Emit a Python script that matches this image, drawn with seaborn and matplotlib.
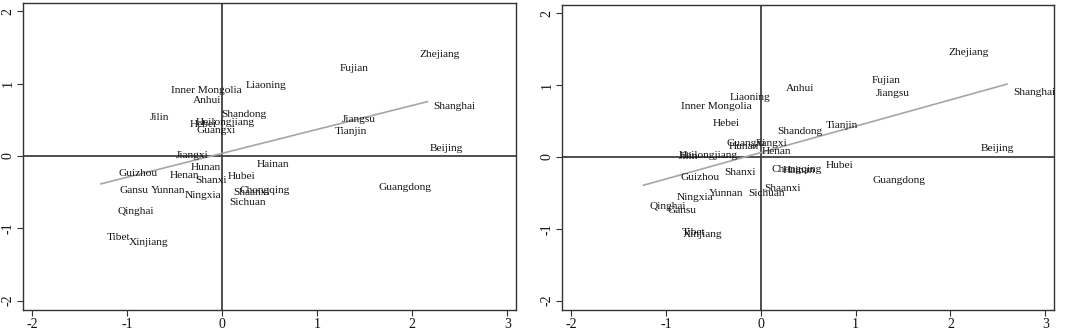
import numpy as np
import pandas as pd
import seaborn as sns
import matplotlib.pyplot as plt

# Left panel: province scores
left_names = ["Zhejiang", "Fujian", "Liaoning", "Inner Mongolia", "Anhui", "Shanghai",
              "Shandong", "Jilin", "Heilongjiang", "Hebei", "Guangxi", "Jiangsu", "Tianjin",
              "Beijing", "Jiangxi", "Hunan", "Hainan", "Guizhou", "Henan", "Shanxi", "Hubei",
              "Guangdong", "Gansu", "Yunnan", "Ningxia", "Shaanxi", "Chongqing", "Sichuan",
              "Qinghai", "Tibet", "Xinjiang"]
left_x = [2.01, 1.17, 0.18, -0.60, -0.37, 2.16, -0.07, -0.83, -0.34, -0.41, -0.33, 1.19, 1.12,
          2.12, -0.55, -0.40, 0.30, -1.16, -0.62, -0.35, -0.01, 1.58, -1.14, -0.81, -0.46,
          0.05, 0.12, 0.01, -1.17, -1.28, -1.05]
left_y = [1.40, 1.21, 0.97, 0.91, 0.77, 0.68, 0.58, 0.53, 0.46, 0.43, 0.35, 0.51, 0.34,
          0.11, 0.00, -0.16, -0.12, -0.24, -0.27, -0.34, -0.28, -0.43, -0.48, -0.48, -0.55,
          -0.50, -0.48, -0.65, -0.77, -1.13, -1.19]

# Right panel
right_names = ["Zhejiang", "Fujian", "Jiangsu", "Anhui", "Liaoning", "Inner Mongolia", "Shanghai",
               "Hebei", "Shandong", "Tianjin", "Guangxi", "Jiangxi", "Hunan", "Henan", "Beijing",
               "Jilin", "Heilongjiang", "Chongqing", "Hainan", "Hubei", "Guizhou", "Shanxi",
               "Guangdong", "Shaanxi", "Sichuan", "Yunnan", "Ningxia", "Qinghai", "Gansu",
               "Tibet", "Xinjiang"]
right_x = [1.92, 1.105, 1.15, 0.20, -0.39, -0.90, 2.60, -0.57, 0.11, 0.62, -0.42, -0.13, -0.40,
           -0.05, 2.26, -0.93, -0.93, 0.05, 0.165, 0.62, -0.91, -0.45, 1.11, -0.03, -0.20,
           -0.61, -0.95, -1.24, -1.05, -0.90, -0.89]
right_y = [1.46, 1.06, 0.88, 0.95, 0.83, 0.70, 0.90, 0.47, 0.36, 0.44, 0.19, 0.19, 0.14, 0.08,
           0.12, 0.01, 0.02, -0.18, -0.19, -0.125, -0.28, -0.22, -0.33, -0.44, -0.51, -0.51,
           -0.57, -0.69, -0.74, -1.05, -1.08]

ticks = [-2, -1, 0, 1, 2, 3]
yticks = [-2, -1, 0, 1, 2]

sns.set_theme(style="white")
plt.rcParams['font.family'] = ['Liberation Serif', 'DejaVu Serif']
plt.rcParams['axes.unicode_minus'] = False

fig = plt.figure(figsize=(10.72, 3.35), dpi=100)
ax1 = fig.add_axes([0.0212, 0.0746, 0.4601, 0.9174])
ax2 = fig.add_axes([0.524, 0.0746, 0.459, 0.9114])

for ax, names, xs, ys in [(ax1, left_names, left_x, left_y), (ax2, right_names, right_x, right_y)]:
    df = pd.DataFrame({"x": xs, "y": ys})
    # linear fit over the data range
    sns.regplot(data=df, x="x", y="y", ax=ax, scatter=False, ci=None, truncate=True,
                line_kws={"color": "#a6a6a6", "lw": 1.2})
    ax.axhline(0, color="#404040", lw=1.3, zorder=1)
    ax.axvline(0, color="#404040", lw=1.3, zorder=1)
    for n, x, y in zip(names, xs, ys):
        ax.annotate(n, (x, y), xytext=(4.3, 0), textcoords="offset points",
                    ha="left", va="center", fontsize=8.2, color="#111111")
    ax.set_xlim(-2.1, 3.09)
    ax.set_ylim(-2.13, 2.12)
    ax.set_xticks(ticks)
    ax.set_yticks(yticks)
    ax.set_xlabel("")
    ax.set_ylabel("")
    ax.tick_params(axis="both", which="both", direction="out", length=4, width=0.8,
                   color="#333333", labelsize=10, labelcolor="#111111", pad=2,
                   bottom=True, left=True, top=False, right=False)
    for lab in ax.get_yticklabels():
        lab.set_rotation(90)
        lab.set_va("center")
    for s in ax.spines.values():
        s.set_color("#333333")
        s.set_linewidth(1.0)

fig.savefig("out.png", dpi=100)
